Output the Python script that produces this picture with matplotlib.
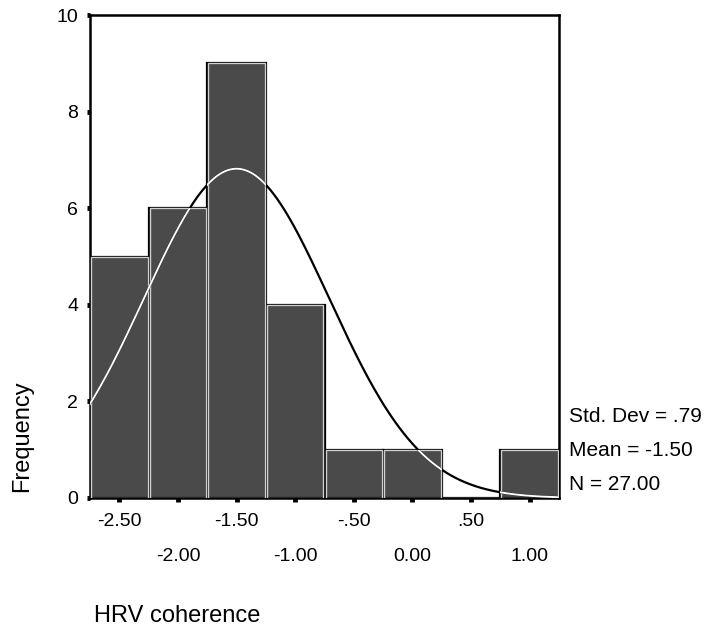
import numpy as np
import matplotlib
matplotlib.use("Agg")
import matplotlib.pyplot as plt

plt.rcParams["font.family"] = ["Liberation Sans", "DejaVu Sans"]

# ヒストグラムのデータ（ビン中心と度数）
bin_centers = [-2.50, -2.00, -1.50, -1.00, -0.50, 0.00, 0.50, 1.00]
counts = [5, 6, 9, 4, 1, 1, 0, 1]
bin_width = 0.5

# 統計量
std_dev = 0.79
mean = -1.50
n_total = 27.00
stats_lines = ["Std. Dev = .79", "Mean = -1.50", "N = 27.00"]

# 目盛りラベル（上段・下段）
upper_ticks = [-2.50, -1.50, -0.50, 0.50]
upper_labels = ["-2.50", "-1.50", "-.50", ".50"]
lower_ticks = [-2.00, -1.00, 0.00, 1.00]
lower_labels = ["-2.00", "-1.00", "0.00", "1.00"]
y_ticks = [0, 2, 4, 6, 8, 10]

W, H = 709, 630
fig = plt.figure(figsize=(W / 100, H / 100), dpi=100)
ax = fig.add_axes([90 / W, (H - 498) / H, (559 - 90) / W, (498 - 15) / H])

bars = ax.bar(bin_centers, counts, width=bin_width, color="#4a4a4a",
              edgecolor="black", linewidth=1.6, zorder=2)
# 内側の明るい縁取り
ax.bar(bin_centers, counts, width=bin_width * 0.965, fill=False,
       edgecolor="#d0d0d0", linewidth=1.0, zorder=3)

# 正規曲線
x = np.linspace(-2.75, 1.25, 400)
y = n_total * bin_width / (std_dev * np.sqrt(2 * np.pi)) * np.exp(-0.5 * ((x - mean) / std_dev) ** 2)
ax.plot(x, y, color="black", linewidth=1.6, zorder=4)
for b in bars:
    if b.get_height() > 0:
        ln, = ax.plot(x, y, color="white", linewidth=1.4, zorder=5)
        ln.set_clip_path(b)

ax.set_xlim(-2.75, 1.25)
ax.set_ylim(0, 10)
for s in ax.spines.values():
    s.set_linewidth(1.8)

ax.set_xticks(upper_ticks)
ax.set_xticklabels(upper_labels)
ax.set_xticks(lower_ticks, minor=True)
ax.set_xticklabels(lower_labels, minor=True)
ax.tick_params(axis="x", which="both", direction="out", length=3, width=3.5,
               labelsize=14)
ax.tick_params(axis="x", which="major", pad=8)
ax.tick_params(axis="x", which="minor", pad=33)

ax.set_yticks(y_ticks)
ax.tick_params(axis="y", direction="out", length=2.5, width=3.5, labelsize=14, pad=6)

for i, t in enumerate(stats_lines):
    fig.text(569 / W, 1 - (416 + 34 * i) / H, t, fontsize=15,
             ha="left", va="center")

fig.text(28 / W, 1 - 492 / H, "Frequency", rotation=90, rotation_mode="anchor",
         ha="left", va="baseline", fontsize=17)
fig.text(94 / W, 1 - 622 / H, "HRV coherence", ha="left", va="baseline",
         fontsize=17)

fig.savefig("out.png", dpi=100)
